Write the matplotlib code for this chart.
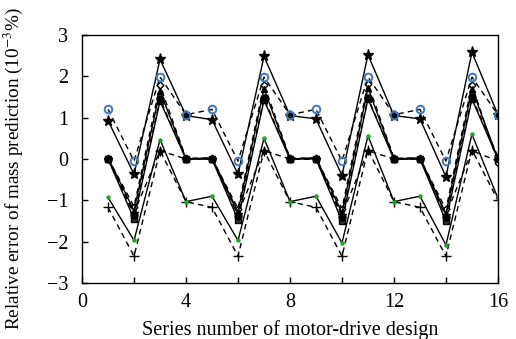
"""Relative error of mass prediction for the 16 motor-drive designs."""

import matplotlib
matplotlib.use("Agg")
import matplotlib.pyplot as plt

plt.rcParams["font.family"] = "Liberation Serif"
plt.rcParams["mathtext.fontset"] = "stix"

design = list(range(1, 17))

circles_open = [1.2, -0.05, 1.98, 1.07, 1.2, -0.05, 1.98, 1.07,
                1.2, -0.05, 1.98, 1.07, 1.2, -0.05, 1.98, 1.07]
stars = [0.93, -0.37, 2.41, 1.05, 0.95, -0.37, 2.48, 1.05,
         0.97, -0.4, 2.52, 1.05, 0.97, -0.43, 2.58, 1.07]
diamonds = [0.02, -1.15, 1.78, 0.02, 0.02, -1.2, 1.8, 0.02,
            0.02, -1.2, 1.82, 0.02, 0.02, -1.22, 1.8, -0.1]
triangles = [0.03, -1.25, 1.65, 0.0, 0.03, -1.28, 1.7, 0.0,
             0.03, -1.3, 1.72, 0.0, 0.03, -1.32, 1.7, 0.0]
squares = [0.0, -1.45, 1.4, 0.0, 0.0, -1.47, 1.42, 0.0,
           0.0, -1.5, 1.45, 0.0, 0.0, -1.5, 1.45, 0.0]
dots_black = [0.0, -1.35, 1.45, 0.0, 0.0, -1.37, 1.47, 0.0,
              0.0, -1.4, 1.48, 0.0, 0.0, -1.4, 1.5, 0.05]
low_peak = [0.0, -1.3, 0.2, 0.0, 0.0, -1.32, 0.2, 0.0,
            0.0, -1.35, 0.2, 0.0, 0.0, -1.35, 0.2, -0.05]
green_dots = [-0.93, -1.97, 0.47, -1.03, -0.9, -1.97, 0.5, -1.03,
              -0.9, -2.03, 0.56, -1.03, -0.9, -2.08, 0.6, -0.95]
plus = [-1.17, -2.35, 0.2, -1.03, -1.17, -2.35, 0.2, -1.03,
        -1.17, -2.35, 0.22, -1.03, -1.17, -2.35, 0.22, -1.0]


def main() -> None:
    fig = plt.figure(figsize=(5.16, 3.39), dpi=100)
    ax = fig.add_axes([0.159, 0.165, 0.806, 0.732])

    dash = (0, (4, 3))
    line = dict(color="black", lw=1.0)

    ax.plot(design, plus, linestyle=dash, marker="+", ms=7, mew=1.0,
            mfc="black", mec="black", **line)
    ax.plot(design, green_dots, linestyle="-", marker="o", ms=2.2,
            mfc="#1fa51f", mec="#1fa51f", **line)
    ax.plot(design, low_peak, linestyle=dash, marker="*", ms=6,
            mfc="black", mec="black", **line)
    ax.plot(design, squares, linestyle="-", marker="s", ms=4.5,
            mfc="#333333", mec="black", **line)
    ax.plot(design, diamonds, linestyle=dash, marker="D", ms=3.5,
            mfc="white", mec="black", **line)
    ax.plot(design, dots_black, linestyle=dash, marker="o", ms=5,
            mfc="black", mec="black", **line)
    ax.plot(design, triangles, linestyle="-", marker="^", ms=5,
            mfc="black", mec="black", **line)
    ax.plot(design, stars, linestyle="-", marker="*", ms=8,
            mfc="black", mec="black", **line)
    ax.plot(design, circles_open, linestyle=dash, marker="o", ms=5.5,
            mfc="none", mec="#3d7ab8", mew=1.4, **line)

    ax.set_xlim(0, 16)
    ax.set_ylim(-3, 3)
    ax.set_xticks(range(0, 17, 2))
    ax.set_xticklabels([str(v) if v % 4 == 0 else "" for v in range(0, 17, 2)])
    ax.set_yticks(range(-3, 4))
    ax.set_yticklabels([str(v).replace("-", "\u2212") for v in range(-3, 4)])
    ax.tick_params(direction="in", length=4, width=1.0, labelsize=14.5,
                   top=False, right=False)
    ax.tick_params(axis="x", pad=7)
    ax.tick_params(axis="y", pad=10)

    for spine in ax.spines.values():
        spine.set_linewidth(1.0)

    ax.set_xlabel("Series number of motor-drive design", fontsize=14.5)
    ax.xaxis.set_label_coords(0.5, -0.148)
    ax.set_ylabel("Relative error of mass prediction (10$^{\u22123}$%)",
                  fontsize=13.8)
    ax.yaxis.set_label_coords(-0.138, 0.46)

    fig.savefig("out.png", dpi=100)
    plt.close(fig)


if __name__ == "__main__":
    main()
